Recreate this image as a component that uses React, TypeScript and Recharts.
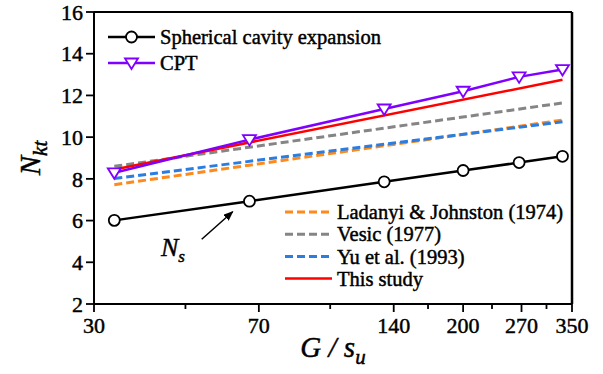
import { LineChart, Line, XAxis, YAxis, ReferenceLine } from "recharts";

// G/su values where the markers sit
const gRatio = [33.3, 66.7, 133.3, 200, 266.7, 333.3];
const cavityNs = [6.01, 6.93, 7.86, 8.4, 8.78, 9.08];
const cptNkt = [8.29, 9.88, 11.35, 12.2, 12.89, 13.24];

// straight lines (log x), read at both ends
const lineEnds = [33.3, 333.3];
const ladanyi = [7.72, 10.82];
const vesic = [8.6, 11.64];
const yu = [8.02, 10.74];
const thisStudy = [8.45, 12.75];

const xTicks = [30, 70, 140, 200, 270, 350];
const xMinorTicks = [48, 101, 167, 232, 307];
const yTicks = [2, 4, 6, 8, 10, 12, 14, 16];

const FONT = "Liberation Serif, Tinos, DejaVu Serif, serif";

const toPoints = (xs: number[], ys: number[]) => xs.map((x, i) => ({ x, y: ys[i] }));

const dashed = [
  { name: "Ladanyi & Johnston (1974)", color: "#ff8a1c", values: ladanyi, dash: "8 4" },
  { name: "Vesic (1977)", color: "#858585", values: vesic, dash: "8 4" },
  { name: "Yu et al. (1993)", color: "#2b7de0", values: yu, dash: "8 4" },
  { name: "This study", color: "#ff0000", values: thisStudy, dash: undefined },
];

// slightly heavier glyphs, like the reference's printed text
const ink = { fill: "#000", stroke: "#000", strokeWidth: 0.45 };

const CircleDot = (props: any) => {
  const { cx, cy } = props;
  return <circle cx={cx} cy={cy} r={5.5} fill="#fff" stroke="#000" strokeWidth={1.8} />;
};

const TriangleDot = (props: any) => {
  const { cx, cy } = props;
  return (
    <path
      d={`M${cx - 6.5},${cy - 4.5} L${cx + 6.5},${cy - 4.5} L${cx},${cy + 6} Z`}
      fill="#fff"
      stroke="#7f00ff"
      strokeWidth={1.8}
    />
  );
};

const XTick = (props: any) => {
  const { x, y, payload } = props;
  const axisY = y - 12;
  const major = xTicks.includes(payload.value);
  return (
    <g>
      <line x1={x} x2={x} y1={axisY} y2={axisY + (major ? 8 : 5)} stroke="#000" strokeWidth={1.8} />
      {major && (
        <text x={x} y={axisY + 29} textAnchor="middle" style={{ fontFamily: FONT, fontSize: 22 }} {...ink}>
          {payload.value}
        </text>
      )}
    </g>
  );
};

const YTick = (props: any) => {
  const { x, y, payload } = props;
  return (
    <text x={x} y={y} dy="0.35em" textAnchor="end" style={{ fontFamily: FONT, fontSize: 22 }} {...ink}>
      {payload.value}
    </text>
  );
};

function LegendSample({ x, y, color, dash, marker }: any) {
  return (
    <g>
      <line x1={x} x2={x + 47} y1={y} y2={y} stroke={color} strokeWidth={dash ? 3 : 2.5} strokeDasharray={dash} />
      {marker === "circle" && <CircleDot cx={x + 23.5} cy={y} />}
      {marker === "triangle" && <TriangleDot cx={x + 23.5} cy={y} />}
    </g>
  );
}

const txt = (size: number, italic = false) => ({ fontFamily: FONT, fontSize: size, fontStyle: italic ? "italic" : "normal" });

export default function App() {
  return (
    <div style={{ position: "absolute", left: 0, top: 0, width: 603, height: 374, background: "#fff" }}>
      <LineChart width={603} height={374} margin={{ top: 12, right: 31, bottom: 0, left: 0 }}>
        <XAxis
          dataKey="x"
          type="number"
          scale="log"
          domain={[30, 350]}
          ticks={[...xTicks, ...xMinorTicks].sort((a, b) => a - b)}
          interval={0}
          allowDataOverflow
          height={70}
          tickSize={8}
          tickMargin={4}
          tickLine={false}
          tick={<XTick />}
          axisLine={{ stroke: "#000", strokeWidth: 2 }}
        />
        <YAxis
          type="number"
          domain={[2, 16]}
          ticks={yTicks}
          interval={0}
          width={94}
          tickSize={8}
          tickMargin={3}
          tick={<YTick />}
          tickLine={{ stroke: "#000", strokeWidth: 1.8 }}
          axisLine={{ stroke: "#000", strokeWidth: 2 }}
        />
        <ReferenceLine y={16} stroke="#000" strokeWidth={2} />
        <ReferenceLine x={350} stroke="#000" strokeWidth={2.5} />
        {dashed.map((s) => (
          <Line
            key={s.name}
            data={toPoints(lineEnds, s.values)}
            dataKey="y"
            type="linear"
            stroke={s.color}
            strokeWidth={s.dash ? 3 : 2.5}
            strokeDasharray={s.dash}
            dot={false}
            isAnimationActive={false}
          />
        ))}
        <Line
          data={toPoints(gRatio, cptNkt)}
          dataKey="y"
          type="linear"
          stroke="#7f00ff"
          strokeWidth={2.5}
          dot={<TriangleDot />}
          isAnimationActive={false}
        />
        <Line
          data={toPoints(gRatio, cavityNs)}
          dataKey="y"
          type="linear"
          stroke="#000"
          strokeWidth={2.5}
          dot={<CircleDot />}
          isAnimationActive={false}
        />
      </LineChart>

      <svg width={603} height={374} style={{ position: "absolute", left: 0, top: 0, pointerEvents: "none" }}>
        <defs>
          <marker id="arrowHead" markerWidth="10" markerHeight="8" refX="9" refY="4" orient="auto" markerUnits="userSpaceOnUse">
            <path d="M0,0 L10,4 L0,8 Z" fill="#000" />
          </marker>
        </defs>

        {/* top-left legend */}
        <LegendSample x={108} y={37} color="#000" marker="circle" />
        <text x={160} y={37} dy="0.35em" style={txt(20.5)} {...ink}>Spherical cavity expansion</text>
        <LegendSample x={108} y={63} color="#7f00ff" marker="triangle" />
        <text x={160} y={63} dy="0.35em" style={txt(20.5)} {...ink}>CPT</text>

        {/* bottom-right legend */}
        {dashed.map((s, i) => {
          const y = 212 + i * 22.2;
          return (
            <g key={s.name}>
              <LegendSample x={285} y={y} color={s.color} dash={s.dash} />
              <text x={337} y={y} dy="0.35em" style={txt(20.5)} {...ink}>{s.name}</text>
            </g>
          );
        })}

        {/* Ns annotation */}
        <line x1={201.7} y1={239.3} x2={232.7} y2={211.7} stroke="#000" strokeWidth={1.5} markerEnd="url(#arrowHead)" />
        <text x={161} y={256} style={txt(26, true)} {...ink}>
          N<tspan style={{ fontSize: 17 }} dy={6}>s</tspan>
        </text>

        {/* axis titles */}
        <text x={333} y={357} textAnchor="middle" style={txt(29, true)} {...ink}>
          G / s<tspan style={{ fontSize: 21 }} dy={7}>u</tspan>
        </text>
        <text transform="translate(40,158) rotate(-90)" textAnchor="middle" style={txt(29, true)} {...ink}>
          N<tspan style={{ fontSize: 21 }} dy={7}>kt</tspan>
        </text>
      </svg>
    </div>
  );
}
